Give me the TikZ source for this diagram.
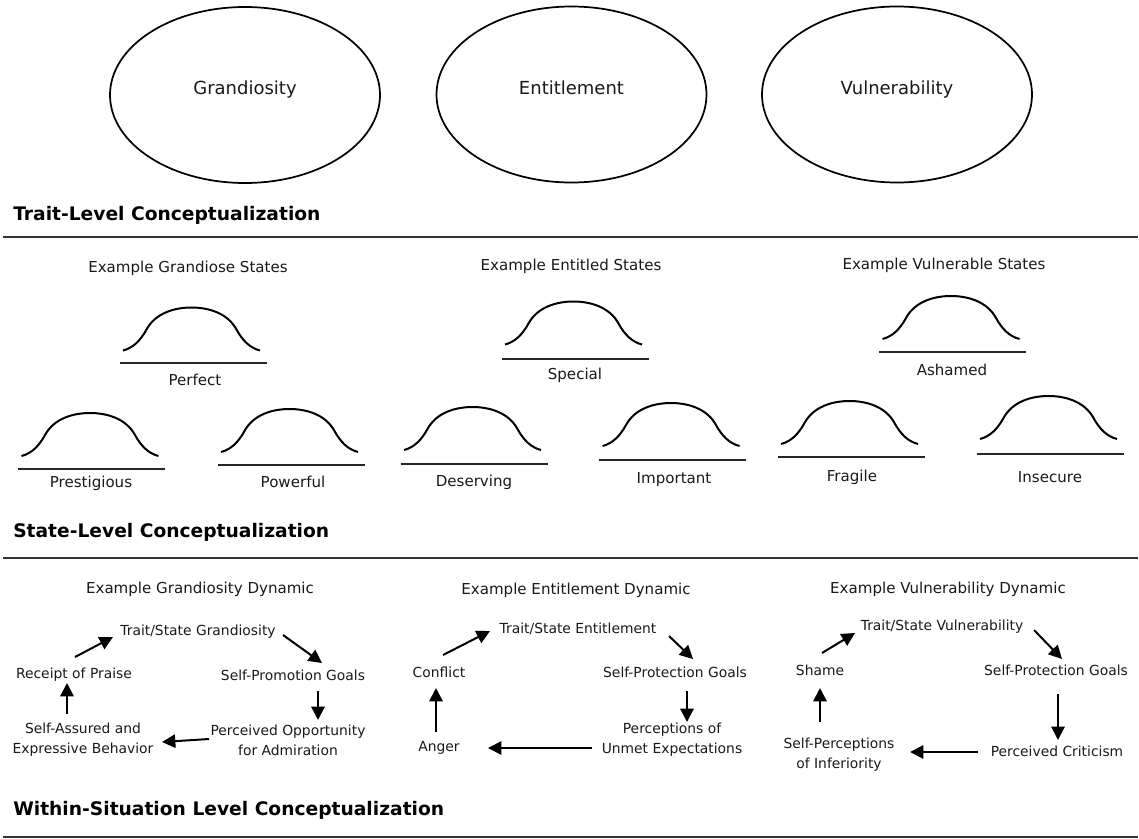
\documentclass[tikz,border=0pt]{standalone}
\usepackage{fontspec}
\setmainfont{DejaVu Sans}
\usetikzlibrary{arrows.meta,calc,shapes.geometric}
\newcommand{\bellcurve}[7]{%
  \draw[bellline] (#2-68.5,#3) .. controls +(10,-2.5) and +(-6,11) .. (#2-45,#3-21)
     .. controls +(9,-16.5) and +(-17,0) .. (#2,#3-43)
     .. controls +(17,0) and +(-9,-16.5) .. (#2+45,#3-21)
     .. controls +(6,11) and +(-10,-2.5) .. (#2+68.5,#3);
  \draw[baseln] (#2-72,#4) -- (#2+75,#4);
  \node[sub] (#1) at (#5,#6) {#7};}
\begin{document}
\begin{tikzpicture}[x=0.75pt,y=-0.75pt,
  ell/.style={draw,ellipse,line width=1.3pt,minimum width=202.5pt,minimum height=132pt,inner sep=0pt},
  big/.style={font=\fontsize{13.5}{16}\selectfont,inner sep=0pt,text=black!90},
  head/.style={font=\fontsize{14}{17}\selectfont\bfseries,anchor=west,inner sep=0pt},
  sub/.style={font=\fontsize{11.3}{14}\selectfont,inner sep=0pt,text=black!90},
  cyc/.style={font=\fontsize{10.4}{15}\selectfont,inner sep=0pt,align=center,text=black!90},
  rule/.style={line width=1.6pt,black!80},
  bellline/.style={line width=1.5pt},
  baseln/.style={line width=1.6pt,black!85},
  arr/.style={line width=1.5pt,-{Triangle[length=10pt,width=10pt]}}]
\useasboundingbox (0,0) rectangle (1139,839);

% ---------- Trait level ----------
\node[ell] (eG) at (245,95) {};
\node[big] (tG) at ($(eG)+(0,-5)$) {Grandiosity};
\node[ell] (eE) at (571.5,94.5) {};
\node[big] (tE) at ($(eE)+(0,-7)$) {Entitlement};
\node[ell] (eV) at (897,94.5) {};
\node[big] (tV) at ($(eV)+(0,-5)$) {Vulnerability};
\node[head] (h1) at (13,215) {Trait-Level Conceptualization};
\draw[rule] (3,237) -- (1138,237);

% ---------- State level ----------
\node[sub] (gs) at (188,268) {Example Grandiose States};
\node[sub] (es) at (571,266) {Example Entitled States};
\node[sub] (vs) at (944,265) {Example Vulnerable States};

\bellcurve{perfect}{191.5}{350.5}{363}{195}{380}{Perfect}
\bellcurve{prestigious}{90}{456}{469}{91}{483}{Prestigious}
\bellcurve{powerful}{289.5}{452}{465}{293}{482}{Powerful}
\bellcurve{special}{573.5}{344.5}{359}{575}{375}{Special}
\bellcurve{deserving}{472.5}{450}{464}{474}{482}{Deserving}
\bellcurve{important}{671}{446}{460}{674}{480}{Important}
\bellcurve{ashamed}{951}{339}{352}{952}{370}{Ashamed}
\bellcurve{fragile}{849.5}{444}{457}{852}{477}{Fragile}
\bellcurve{insecure}{1048.5}{439}{454}{1050}{477}{Insecure}

\node[head] (h2) at (13,532) {State-Level Conceptualization};
\draw[rule] (3,558) -- (1138,558);

% ---------- Within-situation level ----------
\node[sub] (gd) at (200,589) {Example Grandiosity Dynamic};
\node[sub] (ed) at (576,590) {Example Entitlement Dynamic};
\node[sub] (vd) at (948,589) {Example Vulnerability Dynamic};

% Grandiosity cycle
\node[cyc] (tg) at (198,632) {Trait/State Grandiosity};
\node[cyc] (rp) at (74,675) {Receipt of Praise};
\node[cyc] (sp) at (293,675) {Self-Promotion Goals};
\node[cyc] (sa) at (83,740) {Self-Assured and\\Expressive Behavior};
\node[cyc] (po) at (288,740) {Perceived Opportunity\\for Admiration};
\draw[arr] ($(rp)+(1,-18)$) -- ($(tg)+(-85,5)$);
\draw[arr] ($(tg)+(85,3)$) -- ($(sp)+(29,-12)$);
\draw[arr] ($(sp)+(25,16)$) -- ($(po)+(30,-20)$);
\draw[arr] ($(po)+(-79,-1)$) -- ($(sa)+(79,2)$);
\draw[arr] ($(sa)+(-16,-26)$) -- ($(rp)+(-7,8)$);

% Entitlement cycle
\node[cyc] (te) at (578,629) {Trait/State Entitlement};
\node[cyc] (cf) at (439,672) {Conflict};
\node[cyc] (spE) at (675,672) {Self-Protection Goals};
\node[cyc] (an) at (439,748) {Anger};
\node[cyc] (pu) at (672,740) {Perceptions of\\Unmet Expectations};
\draw[arr] ($(cf)+(4,-17)$) -- ($(te)+(-88,2)$);
\draw[arr] ($(te)+(91,7)$) -- ($(spE)+(18,-13)$);
\draw[arr] ($(spE)+(12,19)$) -- ($(pu)+(15,-18)$);
\draw[arr] ($(pu)+(-80,8)$) -- ($(an)+(49,0)$);
\draw[arr] ($(an)+(-3,-16)$) -- ($(cf)+(-3,16)$);

% Vulnerability cycle
\node[cyc] (tv) at (942,627) {Trait/State Vulnerability};
\node[cyc] (sh) at (820,670) {Shame};
\node[cyc] (spV) at (1056,670) {Self-Protection Goals};
\node[cyc] (si) at (839,755) {Self-Perceptions\\of Inferiority};
\node[cyc] (pc) at (1057,751) {Perceived Criticism};
\draw[arr] ($(sh)+(2,-17)$) -- ($(tv)+(-87,6)$);
\draw[arr] ($(tv)+(92,3)$) -- ($(spV)+(6,-11)$);
\draw[arr] ($(spV)+(2,24)$) -- ($(pc)+(1,-11)$);
\draw[arr] ($(pc)+(-79,1)$) -- ($(si)+(71,-3)$);
\draw[arr] ($(si)+(-19,-33)$) -- ($(sh)+(0,18)$);

\node[head] (h3) at (13,810) {Within-Situation Level Conceptualization};
\draw[rule] (3,837) -- (1138,837);
\end{tikzpicture}
\end{document}
